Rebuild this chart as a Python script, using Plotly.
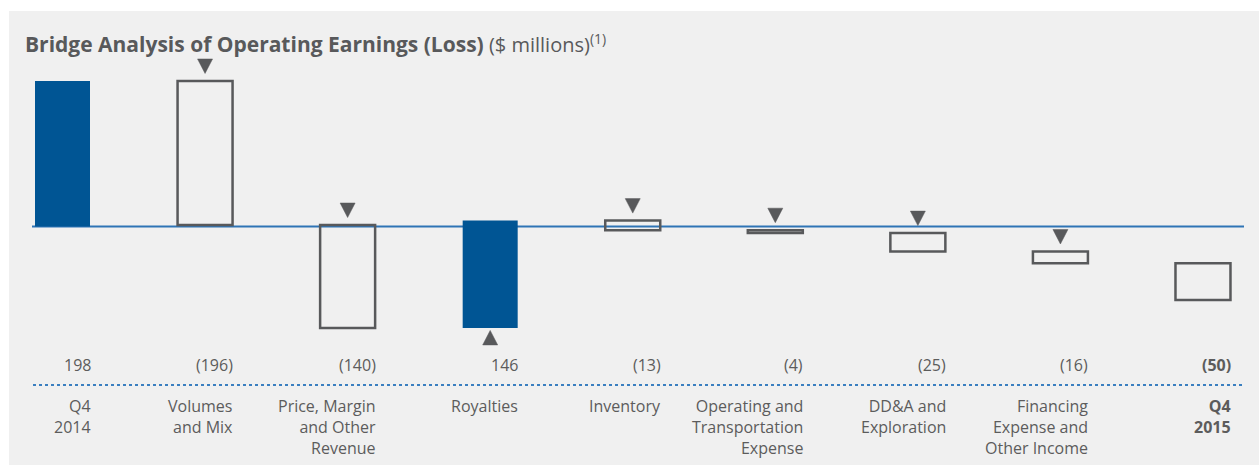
import plotly.graph_objects as go

# ---------------- data ----------------
categories = ["Q4 2014", "Volumes and Mix", "Price, Margin and Other Revenue", "Royalties",
              "Inventory", "Operating and Transportation Expense", "DD&A and Exploration",
              "Financing Expense and Other Income", "Q4 2015"]
tick_labels = ["Q4<br>2014", "Volumes<br>and Mix", "Price, Margin<br>and Other<br>Revenue", "Royalties",
               "Inventory", "Operating and<br>Transportation<br>Expense", "DD&A and<br>Exploration",
               "Financing<br>Expense and<br>Other Income", "<b>Q4<br>2015</b>"]
values = [198, -196, -140, 146, -13, -4, -25, -16, -50]
value_labels = ["198", "(196)", "(140)", "146", "(13)", "(4)", "(25)", "(16)", "<b>(50)</b>"]
kinds = ["total", "delta", "delta", "delta", "delta", "delta", "delta", "delta", "total"]

# ---------------- geometry / style ----------------
W, H = 1259, 465
PX_X = 142.56          # pixels per category step
X0_PX = 62.5           # pixel of first category centre
PX_Y = 0.735           # pixels per $ million
ZERO_PX = 226.5        # pixel row of zero
BAR_PX = 55

x_range = [-X0_PX / PX_X, (W - X0_PX) / PX_X]
y_range = [-(H - ZERO_PX) / PX_Y, ZERO_PX / PX_Y]

BLUE = "#005594"
GRAY = "#58595b"
TXT = "#5c5c5c"
LINE_BLUE = "#2f74b5"
FONT = "Open Sans, Noto Sans, DejaVu Sans, sans-serif"

# cumulative bases
bases, running = [], 0
for i, (v, k) in enumerate(zip(values, kinds)):
    if k == "total" and i == 0:
        bases.append(0)
        running = v
    else:
        bases.append(running)
        running += v

xs = list(range(len(categories)))
fill = [BLUE if v > 0 else "rgba(0,0,0,0)" for v in values]
line_col = [BLUE if v > 0 else GRAY for v in values]
line_w = [0 if v > 0 else 2.5 for v in values]

fig = go.Figure()
fig.add_trace(go.Bar(
    x=xs, y=values, base=bases, width=BAR_PX / PX_X,
    marker=dict(color=fill, line=dict(color=line_col, width=line_w)),
    hoverinfo="skip", showlegend=False,
))

# direction triangles, anchored at each delta bar's starting level
hw = 7.5 / PX_X
th = 14.5 / PX_Y
gap_d = 7.5 / PX_Y
gap_u = 2.5 / PX_Y
tx, ty = [], []
for x, b, v, k in zip(xs, bases, values, kinds):
    if k != "delta":
        continue
    if v < 0:
        tip = b + gap_d
        bl = tip + th
    else:
        tip = b - gap_u
        bl = tip - th
    tx += [x - hw, x + hw, x, x - hw, None]
    ty += [bl, bl, tip, bl, None]
fig.add_trace(go.Scatter(x=tx, y=ty, mode="lines", fill="toself", fillcolor=GRAY,
                         line=dict(color=GRAY, width=0.5), hoverinfo="skip", showlegend=False))

shapes = [
    dict(type="rect", xref="paper", yref="paper", x0=9 / W, x1=1, y0=0, y1=1 - 11 / H,
         fillcolor="#f0f0f0", line=dict(width=0), layer="below"),
    dict(type="line", xref="paper", yref="y", x0=32 / W, x1=1244 / W, y0=0, y1=0,
         line=dict(color=LINE_BLUE, width=2), layer="below"),
    dict(type="line", xref="paper", yref="paper", x0=33 / W, x1=1245 / W,
         y0=1 - 385 / H, y1=1 - 385 / H, line=dict(color="#3a7fc0", width=2, dash="dot"), layer="below"),
]

annotations = [
    dict(xref="paper", yref="paper", x=23 / W, y=1 - 44 / H, xanchor="left", yanchor="middle",
         showarrow=False, align="left",
         text="<span style='font-size:21px'><b>Bridge Analysis of Operating Earnings (Loss)</b></span>"
              " ($ millions)<sup>(1)</sup>",
         font=dict(family=FONT, size=20, color=GRAY)),
]
right_off = (BAR_PX / 2 + 2.5) / PX_X
for x, lab, tl in zip(xs, value_labels, tick_labels):
    annotations.append(dict(xref="x", yref="paper", x=x + right_off, y=1 - 365 / H,
                            xanchor="right", yanchor="middle", showarrow=False, text=lab,
                            font=dict(family=FONT, size=16, color=TXT)))
    annotations.append(dict(xref="x", yref="paper", x=x + right_off, y=1 - 393 / H,
                            xanchor="right", yanchor="top", showarrow=False, text=tl, align="right",
                            font=dict(family=FONT, size=16, color=TXT)))

fig.update_layout(
    width=W, height=H, autosize=False,
    margin=dict(l=0, r=0, t=0, b=0, pad=0),
    paper_bgcolor="white", plot_bgcolor="rgba(0,0,0,0)",
    xaxis=dict(range=x_range, visible=False, fixedrange=True),
    yaxis=dict(range=y_range, visible=False, fixedrange=True),
    shapes=shapes, annotations=annotations, bargap=0,
)

fig.write_html("out.html", config={"displayModeBar": False, "staticPlot": True},
               post_script="document.body.style.margin='0';document.body.style.overflow='hidden';")
